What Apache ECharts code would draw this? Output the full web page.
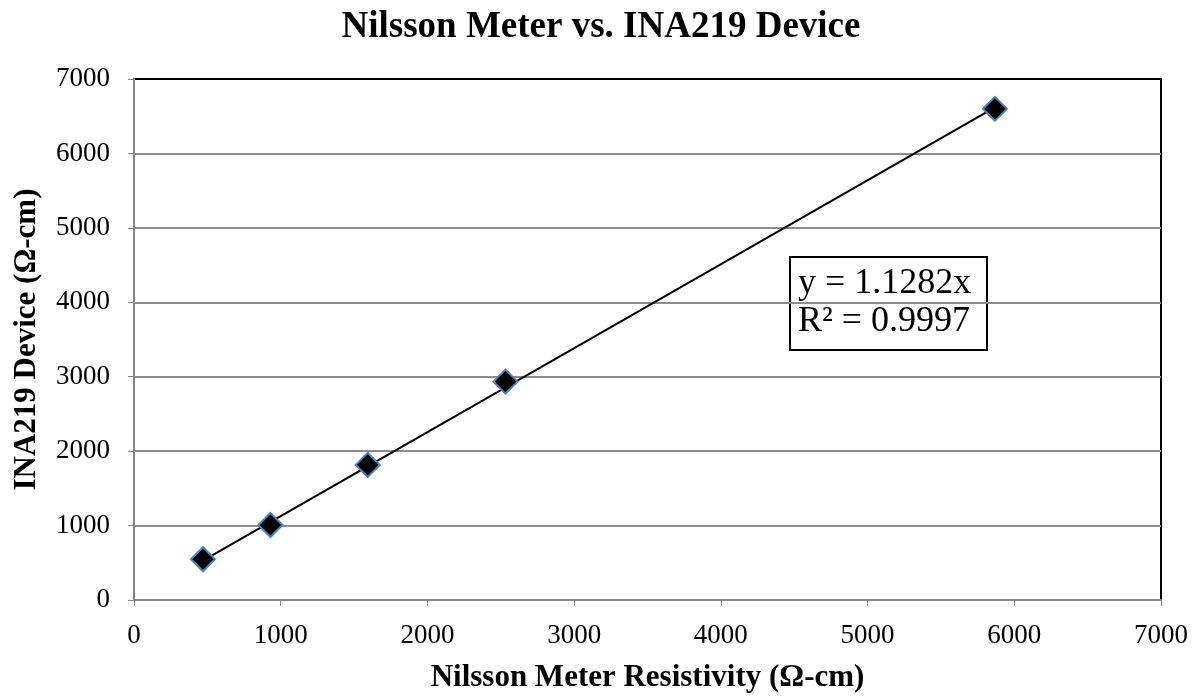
<!DOCTYPE html>
<html>
<head>
<meta charset="utf-8">
<script src="https://cdn.jsdelivr.net/npm/echarts@6/dist/echarts.min.js"></script>
<style>
html,body{margin:0;padding:0;background:#fff;}
#main{width:1202px;height:698px;}
</style>
</head>
<body>
<div id="main"></div>
<script>
// 测量数据
var nilsson = [470, 930, 1593, 2532, 5868];
var ina219 = [547, 1008, 1815, 2934, 6599];
// 趋势线 (过原点)
var slope = 1.1282;
var r2 = 0.9997;
var axisTicks = [0, 1000, 2000, 3000, 4000, 5000, 6000, 7000];

var points = [];
for (var i = 0; i < nilsson.length; i++) {
    points.push([nilsson[i], ina219[i]]);
}
var xMin = Math.min.apply(null, nilsson);
var xMax = Math.max.apply(null, nilsson);
var trend = [[xMin, slope * xMin], [xMax, slope * xMax]];

var font = '"Liberation Serif", "Times New Roman", serif';
function plain(v){ return String(v); }

var myChart = echarts.init(document.getElementById('main'));
var option = {
    animation: false,
    title: {
        text: 'Nilsson Meter vs. INA219 Device',
        left: 'center',
        top: 4,
        textStyle: {fontFamily: font, fontSize: 37, fontWeight: 'bold', color: '#000'}
    },
    grid: {
        left: 134, right: 41, top: 79, bottom: 98,
        show: true,
        borderColor: '#000',
        borderWidth: 2
    },
    xAxis: {
        type: 'value',
        min: axisTicks[0],
        max: axisTicks[axisTicks.length - 1],
        interval: 1000,
        name: 'Nilsson Meter Resistivity (Ω-cm)',
        nameLocation: 'middle',
        nameGap: 62,
        nameTextStyle: {fontFamily: font, fontSize: 31, fontWeight: 'bold', color: '#000'},
        axisLine: {show: true, lineStyle: {color: '#868686', width: 2}},
        axisTick: {show: true, length: 6, lineStyle: {color: '#868686', width: 1}},
        axisLabel: {fontFamily: font, fontSize: 27, color: '#000', margin: 22, formatter: plain},
        splitLine: {show: false}
    },
    yAxis: {
        type: 'value',
        min: axisTicks[0],
        max: axisTicks[axisTicks.length - 1],
        interval: 1000,
        name: 'INA219 Device (Ω-cm)',
        nameLocation: 'middle',
        nameGap: 92,
        nameTextStyle: {fontFamily: font, fontSize: 31, fontWeight: 'bold', color: '#000'},
        axisLine: {show: true, lineStyle: {color: '#868686', width: 2}},
        axisTick: {show: true, length: 6, lineStyle: {color: '#868686', width: 1}},
        axisLabel: {fontFamily: font, fontSize: 27, color: '#000', margin: 24, formatter: plain},
        splitLine: {show: true, showMaxLine: false, lineStyle: {color: '#8c8c8c', width: 2}}
    },
    series: [
        {
            name: 'trend',
            type: 'line',
            data: trend,
            showSymbol: false,
            symbol: 'none',
            lineStyle: {color: '#000', width: 2},
            z: 2
        },
        {
            name: 'data',
            type: 'scatter',
            data: points,
            symbol: 'diamond',
            symbolSize: 24,
            itemStyle: {color: '#000', opacity: 1, borderColor: '#4f81bd', borderWidth: 2},
            z: 3
        }
    ],
    graphic: [
        {
            type: 'group',
            left: 789,
            top: 256,
            children: [
                {
                    type: 'rect',
                    shape: {x: 0, y: 0, width: 197, height: 93},
                    style: {fill: '#fff', stroke: '#000', lineWidth: 2}
                },
                {
                    type: 'text',
                    x: 8,
                    y: 8,
                    style: {
                        text: 'y = ' + slope + 'x\nR² = ' + r2,
                        font: '36px ' + font,
                        fill: '#000',
                        lineHeight: 38
                    }
                }
            ]
        }
    ]
};
myChart.setOption(option);
</script>
</body>
</html>
